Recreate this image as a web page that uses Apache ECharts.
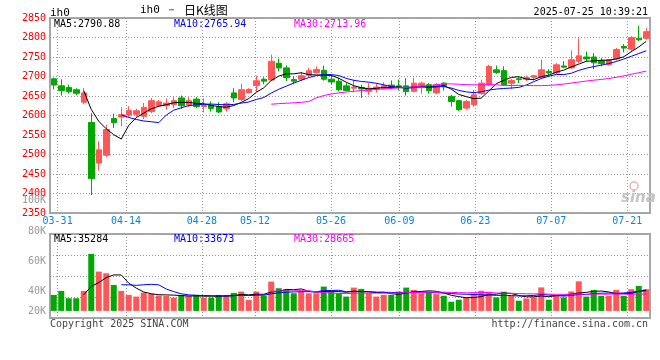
<!DOCTYPE html>
<html><head><meta charset="utf-8">
<script src="https://cdn.jsdelivr.net/npm/echarts@6/dist/echarts.min.js"></script>
<style>html,body{margin:0;padding:0;background:#fff}#c{width:660px;height:360px}</style>
</head><body><div id="c"></div>
<script>
// ---------------- data ----------------
const dates = [
 '03-28','03-31','04-01','04-02','04-03','04-07','04-08','04-09','04-10','04-11',
 '04-14','04-15','04-16','04-17','04-18','04-21','04-22','04-23','04-24','04-25',
 '04-28','04-29','04-30','05-06','05-07','05-08','05-09','05-12','05-13','05-14',
 '05-15','05-16','05-19','05-20','05-21','05-22','05-23','05-26','05-27','05-28',
 '05-29','05-30','06-03','06-04','06-05','06-06','06-09','06-10','06-11','06-12',
 '06-13','06-16','06-17','06-18','06-19','06-20','06-23','06-24','06-25','06-26',
 '06-27','06-30','07-01','07-02','07-03','07-04','07-07','07-08','07-09','07-10',
 '07-11','07-14','07-15','07-16','07-17','07-18','07-21','07-22','07-23','07-24'];
const opens = [
 2694,2676,2672,2666,2634,2582,2478,2498,2592,2596,
 2601,2603,2598,2610,2625,2625,2628,2645,2627,2642,
 2623,2627,2623,2617,2658,2641,2659,2677,2693,2691,
 2734,2722,2692,2693,2703,2710,2716,2693,2688,2676,
 2670,2672,2662,2668,2669,2678,2676,2676,2662,2673,
 2679,2658,2683,2649,2638,2619,2628,2656,2679,2717,
 2715,2683,2694,2693,2698,2698,2713,2709,2727,2722,
 2739,2750,2750,2741,2730,2745,2777,2770,2798,2798];
const closes = [
 2678,2664,2661,2657,2658,2438,2512,2564,2582,2602,
 2613,2612,2621,2638,2635,2632,2638,2625,2638,2623,
 2626,2618,2609,2630,2645,2666,2667,2689,2688,2739,
 2722,2697,2688,2702,2715,2718,2693,2686,2666,2664,
 2673,2668,2670,2673,2676,2673,2673,2661,2683,2683,
 2664,2679,2676,2636,2615,2636,2653,2683,2726,2710,
 2679,2690,2692,2697,2702,2717,2709,2730,2724,2743,
 2753,2745,2735,2733,2743,2769,2773,2800,2794,2815];
const lows = [
 2667,2651,2656,2652,2630,2396,2459,2494,2568,2572,
 2596,2597,2591,2606,2622,2615,2619,2617,2622,2619,
 2608,2610,2606,2610,2634,2637,2656,2660,2680,2688,
 2713,2688,2680,2688,2698,2707,2689,2680,2662,2662,
 2659,2645,2653,2659,2666,2668,2664,2651,2659,2656,
 2656,2655,2664,2623,2611,2615,2622,2653,2676,2707,
 2676,2668,2683,2688,2690,2693,2702,2707,2722,2719,
 2734,2739,2719,2726,2728,2741,2762,2762,2790,2794];
const highs = [
 2697,2693,2679,2670,2670,2606,2534,2576,2605,2621,
 2624,2617,2632,2645,2640,2644,2647,2651,2647,2647,
 2644,2636,2634,2634,2670,2681,2670,2702,2698,2756,
 2746,2728,2701,2712,2722,2726,2728,2704,2696,2683,
 2692,2679,2683,2683,2685,2690,2692,2696,2697,2687,
 2683,2683,2685,2653,2640,2640,2666,2692,2730,2728,
 2726,2694,2698,2702,2704,2743,2719,2734,2739,2767,
 2798,2764,2760,2747,2745,2773,2783,2803,2830,2824];
const volumes = [
 27000,33800,21400,21400,33800,96300,66400,63600,43900,33800,
 27000,24200,31000,28700,25900,25300,22500,27000,25300,27000,
 22500,22500,27000,27000,30400,32700,18600,32700,25900,49500,
 38300,35500,29800,32700,29800,29800,41100,33000,29800,24200,
 39400,37200,29800,24200,27000,27000,32700,39400,35500,29800,
 32400,28400,25600,15500,18900,22800,29600,34100,32400,22800,
 32400,25600,17200,21100,22800,39700,18900,26800,22800,32900,
 50000,24200,35500,25300,25300,35500,25300,36700,42200,36700];
const dateLabelIdx = [1,10,20,27,37,46,56,66,76];
const volTickLabels = ['100K','80K','60K','40K','20K'];
const legendMain = ['MA5:2790.88','MA10:2765.94','MA30:2713.96'];
const legendVol = ['MA5:35284','MA10:33673','MA30:28665'];
const titleCode = 'ih0 － ';
const titleName = '日K线图';
const codeText = 'ih0';
const timeText = '2025-07-25 10:39:21';
const copyText = 'Copyright 2025 SINA.COM';
const urlText = 'http://finance.sina.com.cn';

// ---------------- layout / style ----------------
const UP = '#ff5757', DOWN = '#00a800';
const MA_COLORS = ['#000000', '#0000ff', '#ff00ff'];
const MA_N = [5, 10, 30];
const MONO = '"DejaVu Sans Mono", monospace';
const GRID_COLOR = '#999999';
const volTickY = [200, 231, 261, 291.5, 311];
const legendX = [54, 174, 294];
const PRICE_MIN = 2350, PRICE_MAX = 2850, VOL_MIN = -12000, VOL_MAX = 130000;
const G0 = {left: 50, top: 18, width: 600, height: 195};
const G1 = {left: 50, top: 234, width: 600, height: 84};

function gridLine() { return {color: GRID_COLOR, type: [1, 2], width: 1, opacity: 1}; }

function ma(arr, n) {
  return arr.map((v, i) => {
    if (i < n - 1) return '-';
    let s = 0;
    for (let k = i - n + 1; k <= i; k++) s += arr[k];
    return +(s / n).toFixed(2);
  });
}

const candleData = dates.map((d, i) => [opens[i], closes[i], lows[i], highs[i]]);
const volData = volumes.map((v, i) => ({value: v, itemStyle: {color: closes[i] >= opens[i] ? UP : DOWN}}));
const labelSet = new Set(dateLabelIdx);
const isLabel = (idx) => labelSet.has(idx);

const chart = echarts.init(document.getElementById('c'), null, {renderer: 'canvas'});

const series = [];
series.push({
  type: 'candlestick', xAxisIndex: 0, yAxisIndex: 0, data: candleData, barWidth: 6,
  itemStyle: {color: UP, color0: DOWN, borderColor: UP, borderColor0: DOWN, borderWidth: 1},
  animation: false, z: 2
});
MA_N.forEach((n, k) => series.push({
  type: 'line', xAxisIndex: 0, yAxisIndex: 0, data: ma(closes, n), showSymbol: false, symbol: 'none',
  lineStyle: {width: 1, color: MA_COLORS[k]}, itemStyle: {color: MA_COLORS[k]}, animation: false, z: 3
}));
series.push({
  type: 'bar', xAxisIndex: 1, yAxisIndex: 1, data: volData, barWidth: 6, animation: false, z: 2
});
MA_N.forEach((n, k) => series.push({
  type: 'line', xAxisIndex: 1, yAxisIndex: 1, data: ma(volumes, n), showSymbol: false, symbol: 'none',
  lineStyle: {width: 1, color: MA_COLORS[k]}, itemStyle: {color: MA_COLORS[k]}, animation: false, z: 3
}));

function txt(text, x, y, color, size, align, family) {
  return {type: 'text', x, y, silent: true, z: 100,
    style: {text, fill: color, font: size + 'px ' + (family || MONO), align: align || 'left', verticalAlign: 'middle'}};
}
const graphics = [
  txt(codeText, 50, 13, '#000', 11),
  {type: 'text', x: 140, y: 10, silent: true, z: 100,
    style: {text: '{a|' + titleCode + '}{b|' + titleName + '}', verticalAlign: 'middle', align: 'left',
      rich: {a: {font: '11px ' + MONO, fill: '#000'}, b: {font: '12px "Noto Sans CJK SC"', fill: '#000'}}}},
  txt(timeText, 648, 12, '#000', 10, 'right'),
  txt(copyText, 50, 324, '#444', 10),
  txt(urlText, 648, 324, '#444', 10, 'right'),
  {type: 'text', x: 621, y: 198, silent: true, z: 1,
    style: {text: 'sina', fill: '#c4c4c4', font: 'italic bold 15px "DejaVu Sans"', align: 'left', verticalAlign: 'middle'}},
  {type: 'circle', shape: {cx: 634, cy: 186, r: 4}, silent: true, z: 1,
    style: {fill: 'none', stroke: '#f2b0b0', lineWidth: 1.5}}
];
legendMain.forEach((t, k) => graphics.push(txt(t, legendX[k], 24, MA_COLORS[k], 10)));
legendVol.forEach((t, k) => graphics.push(txt(t, legendX[k], 239.5, MA_COLORS[k], 10)));
volTickLabels.forEach((t, k) => graphics.push(txt(t, 46, volTickY[k], '#999', 10, 'right')));

const hidden = {axisLine: {show: false}, axisTick: {show: false}, axisLabel: {show: false}, splitLine: {show: false}};

chart.setOption({
  animation: false,
  backgroundColor: '#fff',
  grid: [
    Object.assign({show: true, borderColor: '#a8a8a8', borderWidth: 2, backgroundColor: 'transparent'}, G0),
    Object.assign({show: true, borderColor: '#a8a8a8', borderWidth: 2, backgroundColor: 'transparent'}, G1)
  ],
  xAxis: [
    Object.assign({type: 'category', gridIndex: 0, data: dates, boundaryGap: true}, hidden),
    Object.assign({type: 'category', gridIndex: 1, data: dates, boundaryGap: true}, hidden),
    {type: 'category', gridIndex: 0, position: 'bottom', data: dates, boundaryGap: false, z: 1,
      axisLine: {show: false}, axisTick: {show: false},
      axisLabel: {show: true, interval: isLabel, margin: 3, color: '#0a84e0', fontSize: 10, fontFamily: MONO},
      splitLine: {show: true, interval: isLabel, lineStyle: gridLine()}},
    {type: 'category', gridIndex: 1, position: 'bottom', data: dates, boundaryGap: false, z: 1,
      axisLine: {show: false}, axisTick: {show: false}, axisLabel: {show: false},
      splitLine: {show: true, interval: isLabel, lineStyle: gridLine()}}
  ],
  yAxis: [
    {type: 'value', gridIndex: 0, min: PRICE_MIN, max: PRICE_MAX, interval: 50, axisLine: {show: false}, axisTick: {show: false},
      axisLabel: {color: '#ff0000', fontSize: 10, fontFamily: MONO, margin: 4, padding: [0, 0, 4, 0], formatter: v => String(v)},
      splitLine: {show: true, lineStyle: gridLine()}},
    Object.assign({type: 'value', gridIndex: 1, min: VOL_MIN, max: VOL_MAX}, hidden),
    {type: 'value', gridIndex: 1, position: 'left', min: 0, max: 4, interval: 1,
      axisLine: {show: false}, axisTick: {show: false}, axisLabel: {show: false},
      splitLine: {show: true, lineStyle: gridLine()}}
  ],
  series,
  graphic: graphics
});
</script></body></html>
